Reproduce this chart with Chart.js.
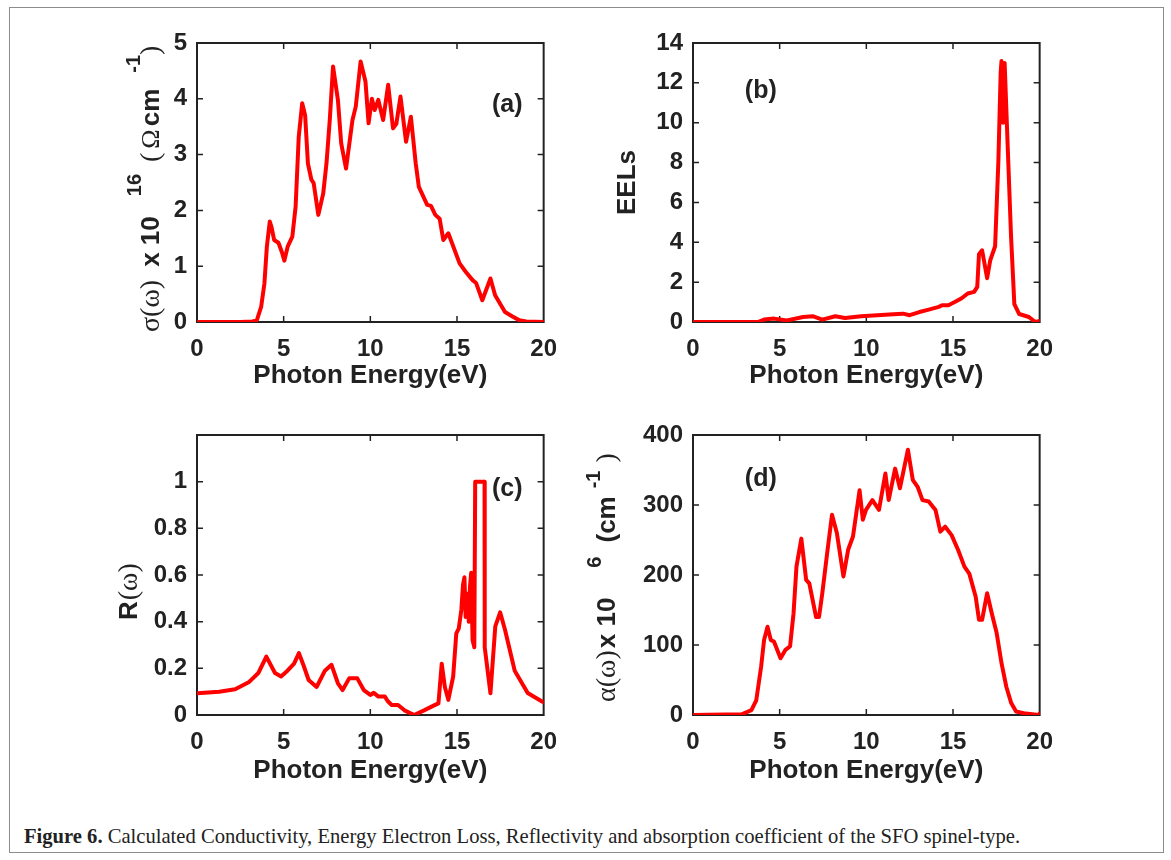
<!DOCTYPE html>
<html>
<head>
<meta charset="utf-8">
<script src="https://cdn.jsdelivr.net/npm/chart.js@4.4.1/dist/chart.umd.min.js"></script>
<style>
  body { margin: 0; background: #fff; width: 1171px; height: 860px; position: relative; overflow: hidden; }
  .frame { position: absolute; left: 9px; top: 7px; width: 1155px; height: 846px; border: 1.5px solid #8c8c8c; box-sizing: border-box; }
  .panel { position: absolute; width: 480px; height: 385px; }
  #caption { position: absolute; left: 24px; top: 826px; font-family: "Liberation Serif", serif; font-size: 20.6px; line-height: 20px; color: #222; white-space: nowrap; }
</style>
</head>
<body>
<div class="frame"></div>
<div class="panel" style="left:90px;top:15px"><canvas id="chartA"></canvas></div>
<div class="panel" style="left:586px;top:15px"><canvas id="chartB"></canvas></div>
<div class="panel" style="left:90px;top:410px"><canvas id="chartC"></canvas></div>
<div class="panel" style="left:586px;top:410px"><canvas id="chartD"></canvas></div>
<div id="caption"><b>Figure 6.</b> Calculated Conductivity, Energy Electron Loss, Reflectivity and absorption coefficient of the SFO spinel-type.</div>
<script>
// (a) optical conductivity
const energyA = [0, 2.5, 3.2, 3.45, 3.7, 3.89, 4.03, 4.2, 4.3, 4.45, 4.7, 4.9, 5.04, 5.23, 5.5, 5.69, 5.87, 6.07, 6.24, 6.4,
  6.6, 6.73, 7.0, 7.28, 7.47, 7.66, 7.85, 8.13, 8.32, 8.6, 8.97, 9.16, 9.44, 9.72, 9.9, 10.09, 10.25, 10.46, 10.74, 11.03,
  11.31, 11.5, 11.74, 12.06, 12.34, 12.62, 12.8, 13.28, 13.5, 13.75, 14.0, 14.21, 14.5, 15.15, 15.5, 15.9, 16.1, 16.46,
  16.93, 17.2, 17.77, 18.2, 18.6, 19, 20];
const sigmaA = [0, 0, 0.01, 0.03, 0.27, 0.69, 1.35, 1.8, 1.7, 1.47, 1.42, 1.25, 1.1, 1.35, 1.53, 2.07, 3.32, 3.92, 3.7, 2.84,
  2.55, 2.49, 1.92, 2.3, 2.84, 3.62, 4.58, 3.98, 3.2, 2.75, 3.62, 3.86, 4.67, 4.31, 3.56, 4.0, 3.8, 3.98, 3.62, 4.25,
  3.47, 3.55, 4.04, 3.23, 3.68, 2.84, 2.42, 2.1, 2.08, 1.92, 1.85, 1.47, 1.59, 1.05, 0.9, 0.75, 0.7, 0.39,
  0.78, 0.48, 0.18, 0.1, 0.03, 0.01, 0];

// (b) electron energy loss
const energyB = [0, 3.74, 4.1, 4.68, 5.42, 6.35, 6.9, 7.46, 8.21, 8.77, 9.7, 10.63, 11.56, 12.12, 12.5, 13.06, 13.6, 14.18,
  14.37, 14.74, 15.1, 15.48, 15.85, 16.22, 16.4, 16.5, 16.68, 16.97, 17.15, 17.43, 17.62, 17.75, 17.8, 17.89, 17.98,
  18.17, 18.35, 18.54, 18.82, 19.38, 19.75, 20];
const eelsB = [0, 0, 0.12, 0.17, 0.08, 0.25, 0.29, 0.12, 0.29, 0.2, 0.29, 0.34, 0.39, 0.42, 0.34, 0.5, 0.62, 0.76,
  0.84, 0.84, 1.0, 1.18, 1.43, 1.51, 1.76, 3.4, 3.6, 2.2, 3.1, 3.8, 8.1, 12.5, 13.1, 10, 13.0,
  8.5, 4.3, 0.9, 0.4, 0.25, 0, 0.05];

// (c) reflectivity
const energyC = [0, 1.28, 2.2, 2.98, 3.54, 4.0, 4.5, 4.85, 5.22, 5.6, 5.88, 6.16, 6.44, 6.9, 7.38, 7.76, 8.13, 8.4, 8.78,
  9.25, 9.62, 10.0, 10.2, 10.47, 10.84, 11.0, 11.22, 11.6, 11.97, 12.53, 13.1, 13.65, 13.93, 14.12, 14.3, 14.5, 14.78,
  14.96, 15.1, 15.25, 15.35, 15.43, 15.5, 15.6, 15.68, 15.75, 15.82, 15.9, 16.0, 16.05, 16.59, 16.6, 16.93, 17.21,
  17.49, 17.77, 18.33, 19.08, 19.93, 20];
const reflC = [0.093, 0.1, 0.11, 0.14, 0.18, 0.25, 0.18, 0.165, 0.19, 0.22, 0.265, 0.21, 0.15, 0.12, 0.19, 0.215, 0.136, 0.107, 0.157,
  0.157, 0.107, 0.086, 0.095, 0.079, 0.079, 0.06, 0.043, 0.043, 0.02, 0, 0.02, 0.04, 0.05, 0.22, 0.12, 0.065, 0.165,
  0.35, 0.37, 0.45, 0.56, 0.59, 0.42, 0.52, 0.4, 0.55, 0.61, 0.32, 0.29, 1.0, 1.0, 0.29, 0.093, 0.38,
  0.44, 0.365, 0.19, 0.094, 0.057, 0.055];

// (d) absorption coefficient
const energyD = [0, 2.81, 3.37, 3.65, 3.93, 4.1, 4.3, 4.49, 4.67, 5.05, 5.33, 5.6, 5.8, 5.97, 6.25, 6.53, 6.71, 7.1, 7.27,
  7.46, 7.74, 8.02, 8.3, 8.68, 8.95, 9.23, 9.61, 9.8, 9.98, 10.35, 10.73, 11.1, 11.29, 11.66, 11.94, 12.4, 12.68, 12.96,
  13.24, 13.6, 13.99, 14.27, 14.55, 14.92, 15.29, 15.66, 15.94, 16.31, 16.5, 16.68, 16.97, 17.24, 17.52, 17.8, 18.08,
  18.36, 18.64, 19.2, 19.95, 20];
const alphaD = [0, 1, 7, 21, 69, 107, 126, 107, 105, 81, 93, 98, 145, 212, 252, 193, 188, 140, 140,
  174, 231, 286, 260, 198, 236, 255, 321, 279, 293, 307, 293, 345, 307, 352, 324, 379, 336, 326,
  307, 305, 293, 262, 269, 257, 236, 212, 202, 169, 136, 136, 174, 145, 117, 74, 40,
  17, 5, 2, 0, 2];

const ink = '#222';
const sans = '"Liberation Sans", Arial, sans-serif';
const serif = '"Liberation Serif", serif';

// box with inward ticks on all four sides, like a MATLAB axes
const boxPlugin = {
  id: 'box',
  beforeDatasetsDraw(chart) {
    const { ctx, chartArea: a, scales } = chart;
    ctx.save();
    ctx.strokeStyle = ink;
    ctx.lineWidth = 1.5;
    scales.x.ticks.forEach(t => {
      const px = scales.x.getPixelForValue(t.value);
      if (px <= a.left + 1 || px >= a.right - 1) return;
      ctx.beginPath();
      ctx.moveTo(px, a.bottom); ctx.lineTo(px, a.bottom - 6);
      ctx.moveTo(px, a.top); ctx.lineTo(px, a.top + 6);
      ctx.stroke();
    });
    scales.y.ticks.forEach(t => {
      const py = scales.y.getPixelForValue(t.value);
      if (py <= a.top + 1 || py >= a.bottom - 1) return;
      ctx.beginPath();
      ctx.moveTo(a.left, py); ctx.lineTo(a.left + 6, py);
      ctx.moveTo(a.right, py); ctx.lineTo(a.right - 6, py);
      ctx.stroke();
    });
    ctx.lineWidth = 2;
    ctx.strokeRect(a.left, a.top, a.right - a.left, a.bottom - a.top);
    ctx.restore();
  }
};

// rotated y title made of runs (superscripts sit to the left)
const yTitlePlugin = {
  id: 'yTitle',
  afterDraw(chart, args, o) {
    const ctx = chart.ctx;
    ctx.save();
    ctx.translate(o.x, o.y0);
    ctx.rotate(-Math.PI / 2);
    ctx.fillStyle = ink;
    ctx.textBaseline = 'middle';
    let pos = 0;
    o.runs.forEach(r => {
      pos += r.gap || 0;
      ctx.font = r.font;
      ctx.fillText(r.text, pos, -(r.rise || 0));
      pos += ctx.measureText(r.text).width;
    });
    ctx.restore();
  }
};

// panel letter placed in data coordinates
const letterPlugin = {
  id: 'letter',
  afterDraw(chart, args, o) {
    const ctx = chart.ctx;
    ctx.save();
    ctx.fillStyle = ink;
    ctx.font = 'bold 25px ' + sans;
    ctx.textAlign = 'center';
    ctx.textBaseline = 'middle';
    ctx.fillText(o.text, chart.scales.x.getPixelForValue(o.x), chart.scales.y.getPixelForValue(o.y));
    ctx.restore();
  }
};

function makePanel(id, xs, ys, yMax, yStep, pad, xHeight, yTitle, letter) {
  new Chart(document.getElementById(id), {
    type: 'line',
    data: {
      datasets: [{
        data: xs.map((x, i) => ({ x: x, y: ys[i] })),
        borderColor: '#ff0000',
        borderWidth: 4,
        borderJoinStyle: 'round',
        borderCapStyle: 'round',
        pointRadius: 0,
        tension: 0,
        fill: false
      }]
    },
    options: {
      responsive: true,
      maintainAspectRatio: false,
      animation: false,
      layout: { padding: { top: pad.top, right: pad.right, left: 0, bottom: 0 } },
      plugins: { legend: { display: false }, tooltip: { enabled: false }, yTitle: yTitle, letter: letter },
      scales: {
        x: {
          type: 'linear', min: 0, max: 20,
          grid: { display: false, drawTicks: false },
          border: { display: false },
          ticks: { stepSize: 5, padding: 13, color: ink, font: { family: sans, size: 24, weight: 'bold' } },
          title: { display: true, text: 'Photon Energy(eV)', color: ink, padding: { top: 0, bottom: 9 },
                   font: { family: sans, size: 26, weight: 'bold' } },
          afterFit: s => { s.height = xHeight; }
        },
        y: {
          min: 0, max: yMax,
          grid: { display: false, drawTicks: false },
          border: { display: false },
          ticks: {
            stepSize: yStep, padding: 10, color: ink, font: { family: sans, size: 24, weight: 'bold' },
            callback: v => (v > yMax - yStep / 2 && yMax === 1.2) ? '' : String(Math.round(v * 10) / 10)
          },
          afterFit: s => { s.width = 107; }
        }
      }
    },
    plugins: [boxPlugin, yTitlePlugin, letterPlugin]
  });
}

const sBold = 'bold 26px ' + sans;
const sSup = 'bold 20px ' + sans;
const sSym = '28px ' + serif;

makePanel('chartA', energyA, sigmaA, 5, 1, { top: 28, right: 17 }, 78, {
  x: 62, y0: 317, runs: [
    { text: 'σ(ω)', font: sSym },
    { text: 'x 10', font: sBold, gap: 13 },
    { text: '16', font: sSup, gap: 20, rise: 17 },
    { text: '(', font: sSym, gap: 12 },
    { text: 'Ω', font: '26px ' + serif, gap: 4 },
    { text: 'cm', font: sBold, gap: 3 },
    { text: '-1', font: sSup, gap: 16, rise: 18 },
    { text: ')', font: sSym, gap: 0 }
  ] }, { text: '(a)', x: 17.9, y: 3.89 });

makePanel('chartB', energyB, eelsB, 14, 2, { top: 28, right: 15 }, 78, {
  x: 42, y0: 200, runs: [{ text: 'EELs', font: sBold }] }, { text: '(b)', x: 3.91, y: 11.6 });

makePanel('chartC', energyC, reflC, 1.2, 0.2, { top: 25, right: 17 }, 80, {
  x: 40, y0: 210, runs: [
    { text: 'R', font: sBold },
    { text: '(ω)', font: sSym, gap: 1 }
  ] }, { text: '(c)', x: 17.9, y: 0.966 });

makePanel('chartD', energyD, alphaD, 400, 100, { top: 25, right: 15 }, 80, {
  x: 22, y0: 292, runs: [
    { text: 'α(ω)', font: sSym },
    { text: 'x 10', font: sBold, gap: 2 },
    { text: '6', font: sSup, gap: 30, rise: 13 },
    { text: '(cm', font: sBold, gap: 14 },
    { text: '-1', font: sSup, gap: 8, rise: 14 },
    { text: ')', font: sSym, gap: 8 }
  ] }, { text: '(d)', x: 3.91, y: 337 });
</script>
</body>
</html>
